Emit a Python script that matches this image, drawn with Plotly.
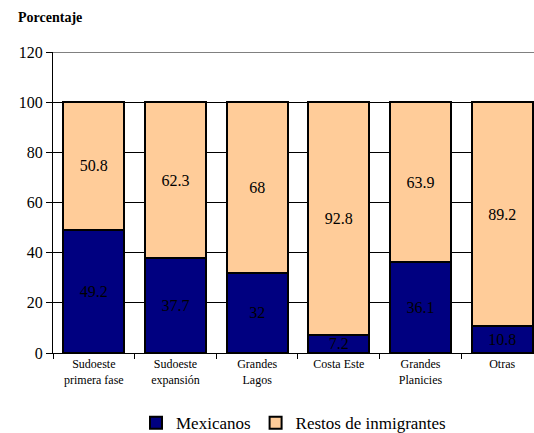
import plotly.graph_objects as go

# ================= DATA =================
regiones = ["Sudoeste<br>primera fase", "Sudoeste<br>expansión", "Grandes<br>Lagos",
            "Costa Este", "Grandes<br>Planicies", "Otras"]
mexicanos = [49.2, 37.7, 32, 7.2, 36.1, 10.8]
restos = [50.8, 62.3, 68, 92.8, 63.9, 89.2]

fuente = "Liberation Serif"

fig = go.Figure()

fig.add_trace(go.Bar(
    x=regiones, y=mexicanos, name="Mexicanos",
    marker=dict(color="#000080", line=dict(color="black", width=2)),
    text=[str(v) for v in mexicanos], textposition="inside",
    insidetextanchor="middle", textangle=0,
    textfont=dict(color="black", size=16, family=fuente),
))
fig.add_trace(go.Bar(
    x=regiones, y=restos, name="Restos de inmigrantes",
    marker=dict(color="#FFCC99", line=dict(color="black", width=2)),
    text=[str(v) for v in restos], textposition="inside",
    insidetextanchor="middle", textangle=0,
    textfont=dict(color="black", size=16, family=fuente),
))

# linea gris superior (borde del area)
fig.add_shape(type="line", xref="paper", yref="y", x0=0, x1=1, y0=120, y1=120,
              line=dict(color="#808080", width=2))

fig.update_layout(
    barmode="stack",
    bargap=0.25,
    width=534, height=433,
    margin=dict(l=53, r=0, t=52, b=80, autoexpand=False),
    paper_bgcolor="white", plot_bgcolor="white",
    font=dict(family=fuente, color="black", size=16),
    uniformtext=dict(minsize=16, mode="show"),
    title=dict(text="<b>Porcentaje</b>", x=18 / 534, xanchor="left",
               y=1 - 17 / 433, yanchor="middle",
               font=dict(size=14, family=fuente, color="black")),
    legend=dict(orientation="h", x=0.5, xanchor="center", y=-0.233, yanchor="middle",
                font=dict(size=17, family=fuente), itemwidth=30,
                traceorder="normal"),
    showlegend=True,
)

fig.update_xaxes(
    range=[-0.5, 5.39], automargin=False,
    showline=True, linecolor="black", linewidth=1,
    ticks="outside", tickson="boundaries", ticklen=5, tickcolor="black",
    tickfont=dict(size=12, family=fuente),
    showgrid=False,
)
fig.update_yaxes(
    range=[0, 120], dtick=20, automargin=False,
    showline=True, linecolor="black", linewidth=1,
    ticks="outside", ticklen=6, tickcolor="black",
    showgrid=True, gridcolor="black", gridwidth=1,
    tickfont=dict(size=16, family=fuente),
    zeroline=False,
)

# quitar el margen del body para que la figura empiece en (0, 0)
fig.write_html("out.html", config={"displayModeBar": False},
               post_script="document.body.style.margin='0';")
